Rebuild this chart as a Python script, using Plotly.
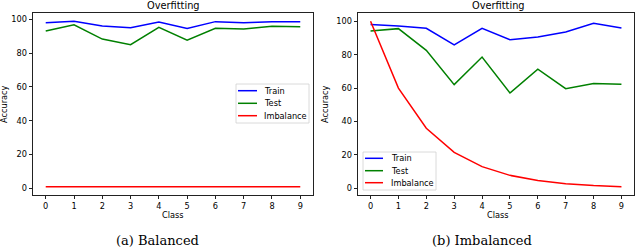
import plotly.graph_objects as go

classes = [0, 1, 2, 3, 4, 5, 6, 7, 8, 9]

bal_train = [98.0, 98.8, 96.0, 95.0, 98.3, 94.5, 98.6, 98.0, 98.5, 98.6]
bal_test = [93.0, 96.7, 88.3, 85.0, 95.2, 87.6, 94.7, 94.2, 95.8, 95.6]
bal_imb = [1.0, 1.0, 1.0, 1.0, 1.0, 1.0, 1.0, 1.0, 1.0, 1.0]

imb_train = [98.0, 97.2, 95.8, 85.8, 95.8, 89.0, 90.6, 93.6, 98.8, 96.0]
imb_test = [94.2, 95.6, 82.6, 62.1, 78.6, 57.1, 71.3, 59.7, 62.7, 62.3]
imb_imb = [100.0, 60.0, 36.0, 21.6, 13.0, 7.8, 4.7, 2.8, 1.7, 1.0]

y_ticks = [0, 20, 40, 60, 80, 100]
series_names = ["Train", "Test", "Imbalance"]
colors = ["blue", "green", "red"]
titles = ["Overfitting", "Overfitting"]
captions = ["(a) Balanced", "(b) Imbalanced"]

W, H = 640, 249
fig = go.Figure()

panels = [
    (bal_train, bal_test, bal_imb, "x", "y"),
    (imb_train, imb_test, imb_imb, "x2", "y2"),
]
for vals_train, vals_test, vals_imb, xa, ya in panels:
    for name, vals, col in zip(series_names, [vals_train, vals_test, vals_imb], colors):
        fig.add_trace(go.Scatter(x=classes, y=vals, mode="lines", name=name,
                                 line=dict(color=col, width=1.5),
                                 xaxis=xa, yaxis=ya, showlegend=False))

font = dict(family="DejaVu Sans", size=8.2, color="black")
axis_common = dict(showgrid=False, zeroline=False, showline=True, mirror=True,
                   linecolor="#222222", linewidth=0.8, ticks="outside", ticklen=3.5,
                   tickcolor="#222222", tickwidth=0.8, tickfont=font)

def px(x):
    return x / W

def py(y):
    return 1 - y / H

fig.update_layout(
    width=W, height=H,
    margin=dict(l=0, r=0, t=0, b=0),
    paper_bgcolor="white", plot_bgcolor="white",
    font=font, showlegend=False,
    xaxis=dict(domain=[px(33), px(313)], range=[-0.45, 9.45], tickvals=classes,
               anchor="y", **axis_common),
    yaxis=dict(domain=[py(195), py(13)], range=[-3.9, 103.7], tickvals=y_ticks,
               anchor="x", **axis_common),
    xaxis2=dict(domain=[px(358), px(634)], range=[-0.45, 9.45], tickvals=classes,
                anchor="y2", **axis_common),
    yaxis2=dict(domain=[py(195), py(13)], range=[-3.95, 104.95], tickvals=y_ticks,
                anchor="x2", **axis_common),
)

annos = []
shapes = []
title_cx = [173, 498]
cap_cx = [157, 482]
ylab_cx = [4, 325]
for i in range(2):
    annos.append(dict(text=titles[i], x=px(title_cx[i]), y=py(5), xref="paper", yref="paper",
                      xanchor="center", yanchor="middle", showarrow=False,
                      font=dict(family="DejaVu Sans", size=9.8, color="black")))
    annos.append(dict(text="Class", x=px(title_cx[i]), y=py(215), xref="paper", yref="paper",
                      xanchor="center", yanchor="middle", showarrow=False, font=font))
    annos.append(dict(text=captions[i], x=px(cap_cx[i]), y=py(240), xref="paper", yref="paper",
                      xanchor="center", yanchor="middle", showarrow=False,
                      font=dict(family="DejaVu Serif", size=13, color="black")))
    annos.append(dict(text="Accuracy", x=px(ylab_cx[i]), y=py(104), xref="paper", yref="paper",
                      xanchor="center", yanchor="middle", showarrow=False, textangle=-90,
                      font=font))

# legend boxes (pixel layout): box (x0, y0, x1, y1), line start/end x, text x, item y's
legends = [
    dict(box=(236, 84, 309, 123), lx=(238, 257), tx=262, ys=(90.7, 103.3, 115.7)),
    dict(box=(363, 152, 436, 190), lx=(365, 383), tx=389, ys=(158.3, 170.7, 182.7)),
]
for lg in legends:
    x0, y0, x1, y1 = lg["box"]
    shapes.append(dict(type="rect", xref="paper", yref="paper",
                       x0=px(x0), x1=px(x1), y0=py(y1), y1=py(y0),
                       line=dict(color="#d0d0d0", width=0.8), fillcolor="white",
                       layer="above"))
    for name, col, yy in zip(series_names, colors, lg["ys"]):
        shapes.append(dict(type="line", xref="paper", yref="paper",
                           x0=px(lg["lx"][0]), x1=px(lg["lx"][1]), y0=py(yy), y1=py(yy),
                           line=dict(color=col, width=1.5), layer="above"))
        annos.append(dict(text=name, x=px(lg["tx"]), y=py(yy), xref="paper", yref="paper",
                          xanchor="left", yanchor="middle", showarrow=False, font=font))

fig.update_layout(annotations=annos, shapes=shapes)

fig.write_html("out.html", config={"displayModeBar": False},
               post_script="document.body.style.margin='0';")
